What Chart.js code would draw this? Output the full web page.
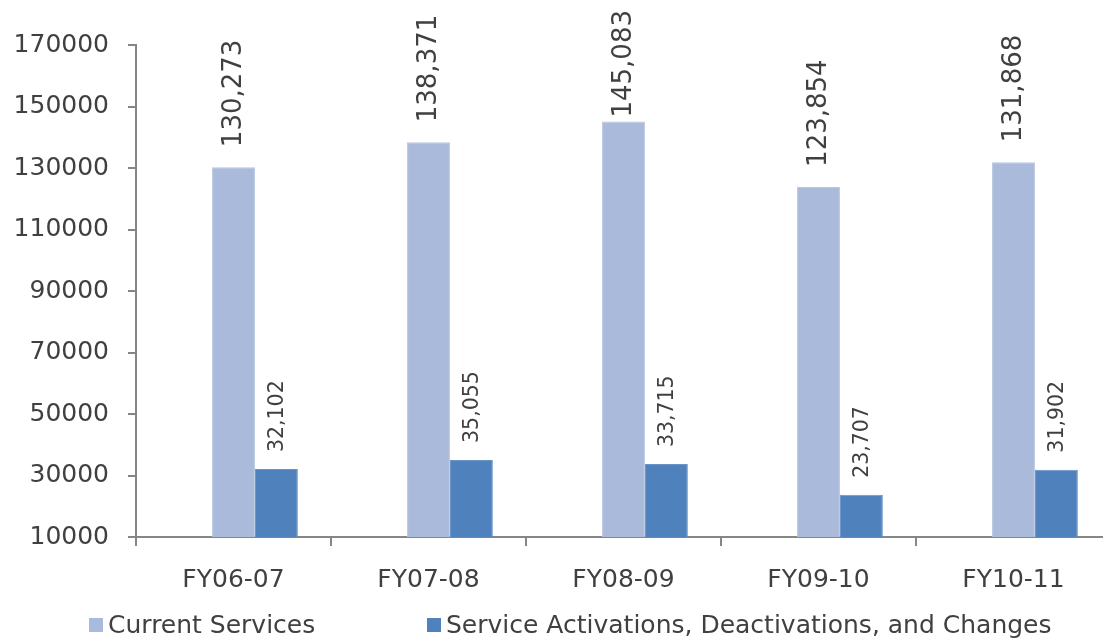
<!DOCTYPE html>
<html lang="en">
<head>
  <meta charset="UTF-8">
  <title>Services by fiscal year</title>
  <script src="https://cdn.jsdelivr.net/npm/chart.js"></script>
  <style>
    html, body { margin: 0; padding: 0; background: #fff; overflow: hidden; }
    #wrap { width: 1112px; height: 641px; position: relative; }
  </style>
</head>
<body>
  <div id="wrap"><canvas id="servChart"></canvas></div>

  <script>
    // data
    const categories = ['FY06-07', 'FY07-08', 'FY08-09', 'FY09-10', 'FY10-11'];
    const currentServices = [130273, 138371, 145083, 123854, 131868];
    const activations = [32102, 35055, 33715, 23707, 31902];
    const yTicks = [10000, 30000, 50000, 70000, 90000, 110000, 130000, 150000, 170000];
    const seriesNames = ['Current Services', 'Service Activations, Deactivations, and Changes'];

    const FONT = '"DejaVu Sans", Verdana, sans-serif';
    const TXT = '#404040';
    const AXIS = '#868686';

    // value labels standing on top of the bars, rotated
    // (excel pushes them down when they'd run off the top of the canvas)
    const barLabels = {
      id: 'barLabels',
      afterDatasetsDraw(chart) {
        const ctx = chart.ctx;
        chart.data.datasets.forEach((ds, i) => {
          if (!ds.labelSize) return;
          const meta = chart.getDatasetMeta(i);
          meta.data.forEach((bar, j) => {
            const v = ds.data[j];
            if (v == null) return;
            const txt = v.toLocaleString('en-US');
            ctx.save();
            ctx.font = ds.labelSize + 'px ' + FONT;
            const w = ctx.measureText(txt).width;
            const start = Math.max(bar.y - ds.labelGap, 10 + w);
            ctx.translate(bar.x, start);
            ctx.rotate(-Math.PI / 2);
            ctx.fillStyle = TXT;
            ctx.textAlign = 'left';
            ctx.textBaseline = 'middle';
            ctx.fillText(txt, 0, 1);
            ctx.restore();
          });
        });
      }
    };

    // legend like the excel one (wide gap between the two entries)
    const bottomLegend = {
      id: 'bottomLegend',
      afterDraw(chart) {
        const ctx = chart.ctx;
        const xs = [89, 427];
        ctx.save();
        ctx.font = '25px ' + FONT;
        ctx.textBaseline = 'middle';
        chart.data.datasets.filter(d => d.label).forEach((ds, k) => {
          ctx.fillStyle = ds.backgroundColor;
          ctx.fillRect(xs[k], 618, 14, 14);
          ctx.fillStyle = TXT;
          ctx.fillText(ds.label, xs[k] + 19, 626);
        });
        ctx.restore();
      }
    };

    new Chart(document.getElementById('servChart'), {
      type: 'bar',
      data: {
        labels: categories,
        datasets: [
          { label: '', data: categories.map(() => null), backgroundColor: 'rgba(0,0,0,0)' },
          { label: seriesNames[0], data: currentServices, backgroundColor: '#AABADA',
            borderColor: '#B8C6E0', borderWidth: 1, labelSize: 26, labelGap: 20 },
          { label: seriesNames[1], data: activations, backgroundColor: '#4F81BD',
            borderColor: '#6A93C8', borderWidth: 1, labelSize: 20.5, labelGap: 17 }
        ]
      },
      plugins: [barLabels, bottomLegend],
      options: {
        responsive: true,
        maintainAspectRatio: false,
        animation: false,
        layout: { padding: { top: 45, right: 1, left: 0, bottom: 0 } },
        datasets: { bar: { categoryPercentage: 0.66, barPercentage: 1.0 } },
        plugins: {
          legend: { display: false },
          tooltip: { enabled: false }
        },
        scales: {
          x: {
            grid: { display: true, drawOnChartArea: false, drawTicks: true, tickLength: 9,
                    color: AXIS, lineWidth: 2, offset: true },
            border: { display: true, color: AXIS, width: 2 },
            ticks: { color: TXT, font: { family: FONT, size: 25 }, padding: 19 },
            afterFit(s) { s.height = 104; }
          },
          y: {
            min: yTicks[0],
            max: yTicks[yTicks.length - 1],
            afterBuildTicks(s) { s.ticks = yTicks.map(v => ({ value: v })); },
            grid: { display: true, drawOnChartArea: false, drawTicks: true, tickLength: 8,
                    color: AXIS, lineWidth: 2 },
            border: { display: true, color: AXIS, width: 2 },
            ticks: { color: TXT, font: { family: FONT, size: 25 }, padding: 19,
                     callback: v => String(v) },
            afterFit(s) { s.width = 136; }
          }
        }
      }
    });
  </script>
</body>
</html>
